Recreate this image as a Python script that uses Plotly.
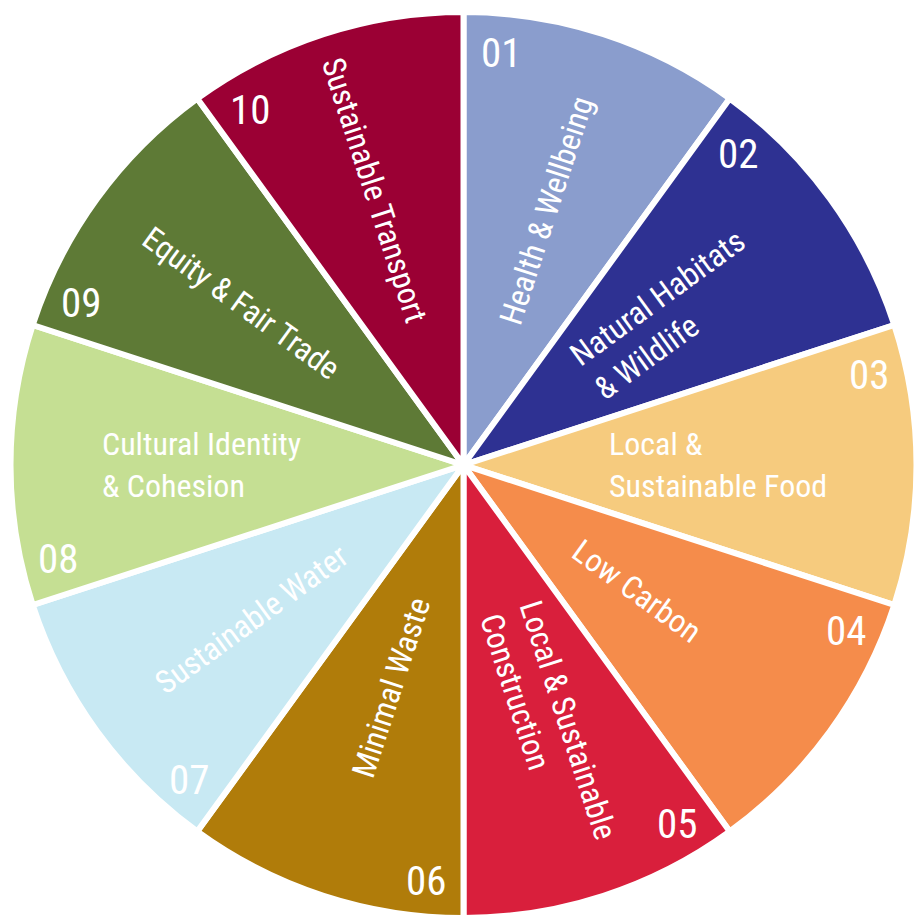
import math
import plotly.graph_objects as go

numbers = ["01", "02", "03", "04", "05", "06", "07", "08", "09", "10"]
labels = [
    ["Health & Wellbeing"],
    ["Natural Habitats", "& Wildlife"],
    ["Local &", "Sustainable Food"],
    ["Low Carbon"],
    ["Local & Sustainable", "Construction"],
    ["Minimal Waste"],
    ["Sustainable Water"],
    ["Cultural Identity", "& Cohesion"],
    ["Equity & Fair Trade"],
    ["Sustainable Transport"],
]
values = [1, 1, 1, 1, 1, 1, 1, 1, 1, 1]
colors = ["#8A9DCD", "#2E3192", "#F6CB7E", "#F58C4B", "#D91F3C",
          "#B07C0A", "#C8E9F3", "#C5DF93", "#5E7A36", "#9B0034"]

W, H = 921, 918
CX, CY, R = 463.5, 465.0, 453.0
FONT = "Roboto Condensed, Liberation Sans Narrow, Roboto, sans-serif"
LABEL_SIZE = 32
NUM_SIZE = 41
CHAR_EM = 0.425

fig = go.Figure()
fig.add_trace(go.Pie(
    values=values,
    labels=numbers,
    sort=False,
    direction="clockwise",
    rotation=0,
    textinfo="none",
    hoverinfo="skip",
    showlegend=False,
    marker=dict(colors=colors, line=dict(color="white", width=6)),
    domain=dict(x=[(CX - R) / W, (CX + R) / W], y=[1 - (CY + R) / H, 1 - (CY - R) / H]),
))


def to_paper(r, ang_deg, dy=0.0):
    a = math.radians(ang_deg)
    px = CX + r * math.sin(a)
    py = CY - r * math.cos(a) + dy
    return px / W, 1 - py / H


total = sum(values)
start = 0.0
annotations = []
for i, v in enumerate(values):
    span = 360.0 * v / total
    mid = start + span / 2
    lines = labels[i]
    wmax = max(len(s) for s in lines) * CHAR_EM * LABEL_SIZE
    rc = 146 + wmax / 2
    tang = mid - 90 if mid <= 180 else mid - 270
    x, y = to_paper(rc, mid)
    annotations.append(dict(
        x=x, y=y, xref="paper", yref="paper", showarrow=False,
        text="<br>".join(lines), align="left", textangle=tang,
        xanchor="center", yanchor="middle",
        font=dict(family=FONT, size=LABEL_SIZE, color="white"),
    ))
    nx, ny = to_paper(416, start + 5.2, dy=2)
    annotations.append(dict(
        x=nx, y=ny, xref="paper", yref="paper", showarrow=False,
        text=numbers[i], xanchor="center", yanchor="middle",
        font=dict(family=FONT, size=NUM_SIZE, color="white"),
    ))
    start += span

fig.update_layout(
    width=W, height=H,
    margin=dict(l=0, r=0, t=0, b=0),
    paper_bgcolor="white", plot_bgcolor="white",
    annotations=annotations,
)
fig.write_html("out.html")
